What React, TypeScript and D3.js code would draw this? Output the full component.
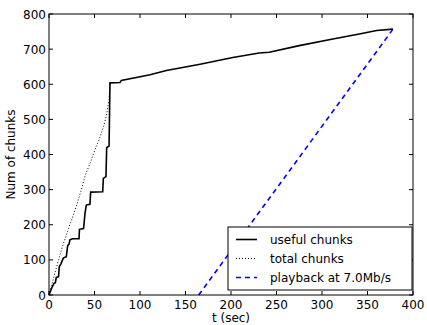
import { useRef, useEffect } from "react";
import * as d3 from "d3";

// useful chunks (step-like)
const usefulT = [0, 3, 5.5, 7, 8, 10.5, 11.3, 13, 15.7, 19, 20.5, 22, 23, 26, 33, 33.5, 38, 39.6, 41, 45, 45.8, 59, 59.7, 62.6, 63.4, 66, 67, 78, 79.5, 111, 129, 166, 202, 231, 242, 275, 312, 341, 360, 378];
const usefulY = [0, 20, 33, 35, 50, 52, 81, 88, 105, 109, 140, 145, 157, 160, 160, 187, 189, 233, 256, 258, 293, 294, 332, 337, 420, 424, 604, 605, 611, 627, 639, 657, 676, 689, 691, 710, 729, 743, 753, 757];

// total chunks (dotted)
const totalT = [0, 5, 10, 15, 20, 25, 30, 35, 40, 45, 50, 55, 60, 63, 66, 67];
const totalY = [0, 48, 95, 140, 178, 215, 252, 295, 342, 374, 410, 442, 480, 510, 555, 604];

// playback at 7.0Mb/s
const playT = [164.5, 378];
const playY = [0, 757];

const xTicks = [0, 50, 100, 150, 200, 250, 300, 350, 400];
const yTicks = [0, 100, 200, 300, 400, 500, 600, 700, 800];

const legendItems = [
  { label: "useful chunks", color: "#000", dash: "none", width: 1.6 },
  { label: "total chunks", color: "#000", dash: "1,2", width: 1 },
  { label: "playback at 7.0Mb/s", color: "#0000ff", dash: "5,4", width: 1.6 },
];

export default function App() {
  const svgRef = useRef<SVGSVGElement | null>(null);

  useEffect(() => {
    const width = 427;
    const height = 325;
    const margin = { top: 14, right: 14, bottom: 30, left: 49 };
    const iw = width - margin.left - margin.right;
    const ih = height - margin.top - margin.bottom;

    const x = d3.scaleLinear().domain([0, 400]).range([0, iw]);
    const y = d3.scaleLinear().domain([0, 800]).range([ih, 0]);

    const svg = d3.select(svgRef.current);
    svg.selectAll("*").remove();
    svg.append("rect").attr("width", width).attr("height", height).attr("fill", "#fff");

    const g = svg.append("g").attr("transform", `translate(${margin.left},${margin.top})`);
    const font = "DejaVu Sans, sans-serif";

    const line = d3
      .line<[number, number]>()
      .x((d) => x(d[0]))
      .y((d) => y(d[1]));

    const zip = (a: number[], b: number[]) => a.map((v, i) => [v, b[i]] as [number, number]);

    g.append("path")
      .attr("d", line(zip(totalT, totalY)))
      .attr("fill", "none")
      .attr("stroke", "#000")
      .attr("stroke-width", 1)
      .attr("stroke-dasharray", "1,2");

    g.append("path")
      .attr("d", line(zip(usefulT, usefulY)))
      .attr("fill", "none")
      .attr("stroke", "#000")
      .attr("stroke-width", 1.6);

    g.append("path")
      .attr("d", line(zip(playT, playY)))
      .attr("fill", "none")
      .attr("stroke", "#0000ff")
      .attr("stroke-width", 1.6)
      .attr("stroke-dasharray", "5,4");

    // ticks (inward, all four sides)
    const tl = 4;
    xTicks.forEach((t) => {
      g.append("line").attr("x1", x(t)).attr("x2", x(t)).attr("y1", ih).attr("y2", ih - tl).attr("stroke", "#000");
      g.append("line").attr("x1", x(t)).attr("x2", x(t)).attr("y1", 0).attr("y2", tl).attr("stroke", "#000");
      g.append("text")
        .attr("x", x(t))
        .attr("y", ih + 14)
        .attr("text-anchor", "middle")
        .attr("font-family", font)
        .attr("font-size", 12)
        .text(t);
    });
    yTicks.forEach((t) => {
      g.append("line").attr("x1", 0).attr("x2", tl).attr("y1", y(t)).attr("y2", y(t)).attr("stroke", "#000");
      g.append("line").attr("x1", iw).attr("x2", iw - tl).attr("y1", y(t)).attr("y2", y(t)).attr("stroke", "#000");
      g.append("text")
        .attr("x", -3)
        .attr("y", y(t) + 4.5)
        .attr("text-anchor", "end")
        .attr("font-family", font)
        .attr("font-size", 12)
        .text(t);
    });

    g.append("rect")
      .attr("width", iw)
      .attr("height", ih)
      .attr("fill", "none")
      .attr("stroke", "#000")
      .attr("stroke-width", 1);

    g.append("text")
      .attr("x", iw / 2)
      .attr("y", ih + 27)
      .attr("text-anchor", "middle")
      .attr("font-family", font)
      .attr("font-size", 12)
      .text("t (sec)");

    g.append("text")
      .attr("transform", `translate(${-34},${ih / 2}) rotate(-90)`)
      .attr("text-anchor", "middle")
      .attr("font-family", font)
      .attr("font-size", 12)
      .text("Num of chunks");

    // legend
    const lg = g.append("g").attr("transform", `translate(${228 - margin.left},${227 - margin.top})`);
    lg.append("rect").attr("width", 184).attr("height", 63).attr("fill", "#fff").attr("stroke", "#000");
    legendItems.forEach((it, i) => {
      const cy = 12.5 + i * 19;
      lg.append("line")
        .attr("x1", 8)
        .attr("x2", 29)
        .attr("y1", cy)
        .attr("y2", cy)
        .attr("stroke", it.color)
        .attr("stroke-width", it.width)
        .attr("stroke-dasharray", it.dash);
      lg.append("text")
        .attr("x", 42)
        .attr("y", cy + 4.5)
        .attr("font-family", font)
        .attr("font-size", 12)
        .text(it.label);
    });
  }, []);

  return (
    <div style={{ position: "fixed", left: 0, top: 0 }}>
      <svg ref={svgRef} width={427} height={325} style={{ display: "block" }}></svg>
    </div>
  );
}
